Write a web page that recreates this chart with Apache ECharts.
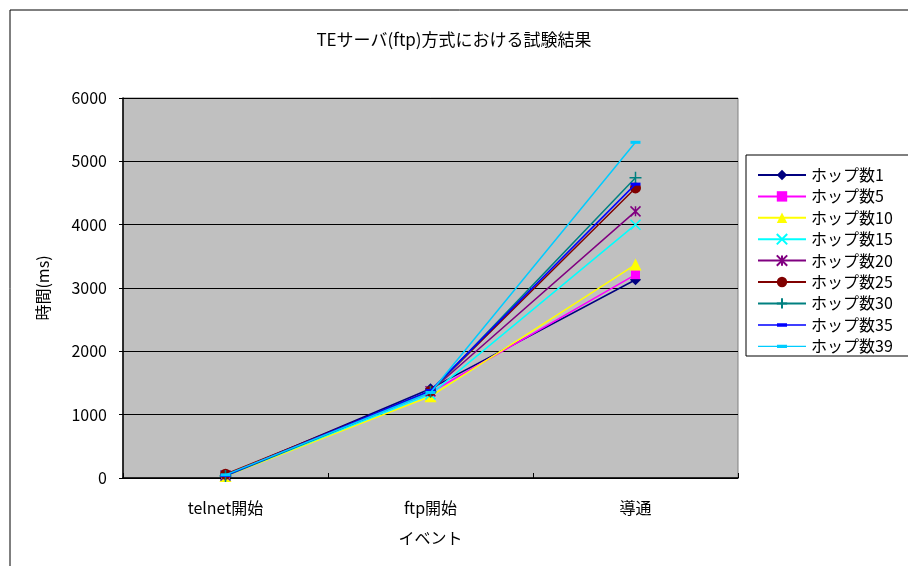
<!DOCTYPE html>
<html>
<head>
<meta charset="utf-8">
<script src="https://cdn.jsdelivr.net/npm/echarts@6/dist/echarts.min.js"></script>
<style>
html,body{margin:0;padding:0;background:#fff;}
#chart{width:908px;height:566px;}
</style>
</head>
<body>
<div id="chart"></div>
<script>
// Event timeline measurements (ms) per hop count
const categories = ['telnet開始', 'ftp開始', '導通'];
const seriesNames = ['ホップ数1', 'ホップ数5', 'ホップ数10', 'ホップ数15', 'ホップ数20', 'ホップ数25', 'ホップ数30', 'ホップ数35', 'ホップ数39'];
const hop1  = [40, 1410, 3130];
const hop5  = [50, 1350, 3210];
const hop10 = [30, 1290, 3370];
const hop15 = [40, 1320, 4000];
const hop20 = [40, 1370, 4210];
const hop25 = [60, 1370, 4580];
const hop30 = [30, 1360, 4740];
const hop35 = [40, 1380, 4640];
const hop39 = [50, 1350, 5300];
const yTicks = [0, 1000, 2000, 3000, 4000, 5000, 6000];

const values = [hop1, hop5, hop10, hop15, hop20, hop25, hop30, hop35, hop39];
const colors = ['#000080', '#FF00FF', '#FFFF00', '#00FFFF', '#800080', '#800000', '#008080', '#0000FF', '#00CCFF'];
// legend icon for the dash-marker series: thin line with a short bar in the middle
const DASH_LEGEND = 'path://M0,0L0.01,0L0,0.01ZM48,13L47.99,13L48,12.99ZM0,6L48,6L48,7.4L0,7.4ZM19,5L29,5L29,8.4L19,8.4Z';
const symbols = [
  'diamond', 'rect', 'triangle',
  'path://M0,0L10,10M10,0L0,10',
  'path://M0,0L10,10M10,0L0,10M5,0L5,10',
  'circle',
  'path://M5,0L5,10M0,5L10,5',
  'rect', 'rect'
];
const sizes = [11, 9, 12, 10, 10, 11, 12, [10, 3], [10, 3]];
const strokeOnly = [false, false, false, true, true, false, true, false, false];

const FONT = '"Noto Sans CJK JP", "Noto Sans", sans-serif';

const series = seriesNames.map((name, i) => ({
  name: name,
  type: 'line',
  data: values[i],
  symbol: symbols[i],
  symbolSize: sizes[i],
  showSymbol: true,
  lineStyle: { color: colors[i], width: 1.5 },
  itemStyle: strokeOnly[i]
    ? { color: colors[i], borderColor: colors[i], borderWidth: 1.5 }
    : { color: colors[i], borderColor: colors[i], borderWidth: 0 },
  emphasis: { disabled: true },
  z: 3 + i
}));

const legendData = seriesNames.map((name, i) => (i >= 7 ? { name: name, icon: DASH_LEGEND } : { name: name }));

const chart = echarts.init(document.getElementById('chart'), null, { renderer: 'canvas' });
chart.setOption({
  animation: false,
  backgroundColor: '#ffffff',
  title: {
    text: 'TEサーバ(ftp)方式における試験結果',
    left: 'center',
    top: 26,
    textStyle: { fontFamily: FONT, fontSize: 17, fontWeight: 'normal', color: '#000' }
  },
  graphic: [
    { type: 'rect', shape: { x: 10, y: 10, width: 1000, height: 1000 },
      style: { fill: null, stroke: '#000', lineWidth: 1 }, silent: true },
    { type: 'rect', shape: { x: 746, y: 155, width: 300, height: 201 },
      style: { fill: '#fff', stroke: '#000', lineWidth: 1 }, silent: true, z: -1 }
  ],
  legend: {
    orient: 'vertical',
    left: 752,
    top: 162,
    itemWidth: 48,
    itemHeight: 13,
    itemGap: 5.4,
    textStyle: { fontFamily: FONT, fontSize: 16, color: '#000' },
    data: legendData
  },
  grid: {
    left: 123, right: 170, top: 98, bottom: 88,
    show: true, backgroundColor: '#C0C0C0', borderColor: '#808080', borderWidth: 1
  },
  xAxis: {
    type: 'category',
    data: categories,
    boundaryGap: true,
    name: 'イベント',
    nameLocation: 'middle',
    nameGap: 52,
    nameTextStyle: { fontFamily: FONT, fontSize: 16, color: '#000' },
    axisLine: { lineStyle: { color: '#000', width: 1.5 } },
    axisTick: { show: true, inside: true, length: 5, lineStyle: { color: '#000' } },
    axisLabel: { fontFamily: FONT, fontSize: 16, color: '#000', margin: 22 }
  },
  yAxis: {
    type: 'value',
    min: yTicks[0],
    max: yTicks[yTicks.length - 1],
    interval: 1000,
    name: '時間(ms)',
    nameLocation: 'middle',
    nameGap: 72,
    nameRotate: 90,
    nameTextStyle: { fontFamily: FONT, fontSize: 16, color: '#000' },
    axisLine: { show: true, lineStyle: { color: '#000', width: 1.5 } },
    axisTick: { show: true, length: 4, lineStyle: { color: '#000' } },
    splitLine: { show: true, lineStyle: { color: '#000', width: 1.2 } },
    axisLabel: { fontFamily: FONT, fontSize: 16, color: '#000', margin: 16, formatter: v => String(v) }
  },
  series: series
});
</script>
</body>
</html>
